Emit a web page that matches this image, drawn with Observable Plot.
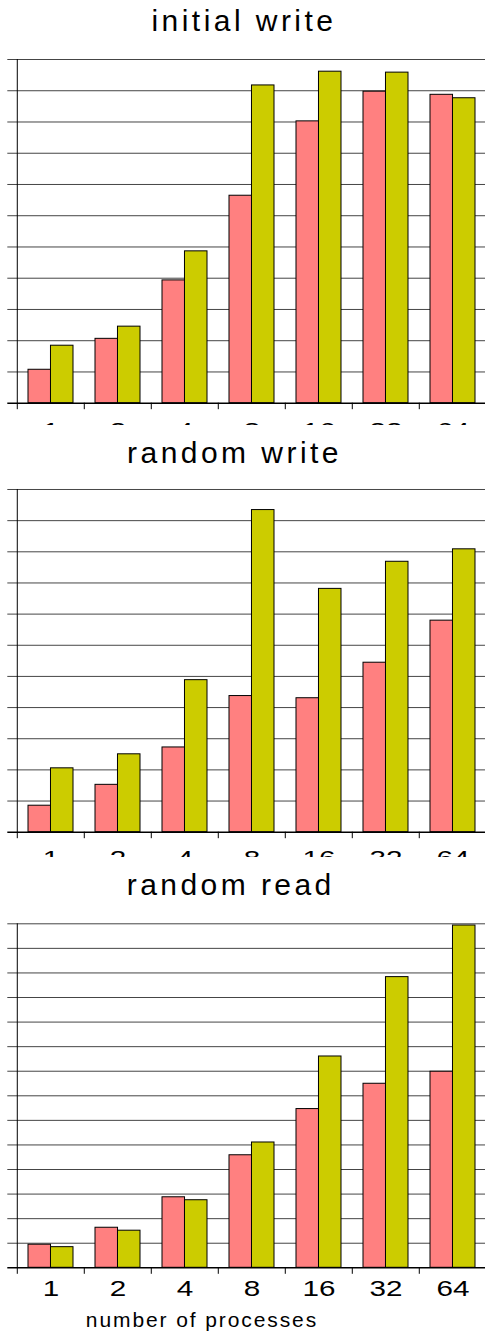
<!DOCTYPE html>
<html><head><meta charset="utf-8">
<script src="https://cdn.jsdelivr.net/npm/d3@7"></script>
<script src="https://cdn.jsdelivr.net/npm/@observablehq/plot@0.6"></script>
<style>
html,body{margin:0;padding:0;background:#fff;}
body{position:relative;width:485px;height:1332px;overflow:hidden;font-family:"Liberation Sans",Arial,sans-serif;}
.title{position:absolute;white-space:nowrap;color:#000;line-height:1;transform:translateX(-50%);z-index:2;font-family:"Liberation Sans",Arial,sans-serif;}
.panel{position:absolute;left:0;width:485px;z-index:1;}
</style></head><body>
<script>
const categories = ["1", "2", "4", "8", "16", "32", "64"];
const initialWriteA = [1.07, 2.06, 3.93, 6.64, 9.02, 9.97, 9.87];
const initialWriteB = [1.84, 2.45, 4.86, 10.17, 10.61, 10.58, 9.76];
const randomWriteA = [0.85, 1.52, 2.72, 4.37, 4.30, 5.44, 6.79];
const randomWriteB = [2.05, 2.50, 4.88, 10.34, 7.81, 8.68, 9.08];
const randomReadA = [0.94, 1.63, 2.87, 4.58, 6.46, 7.49, 7.98];
const randomReadB = [0.84, 1.51, 2.75, 5.10, 8.60, 11.83, 13.93];
const titles = ["initial write", "random write", "random read"];
const xTitle = "number of processes";

function addTitle(text, cx, baseline, fs, ls) {
  const d = document.createElement("div");
  d.className = "title";
  d.textContent = text;
  d.style.fontSize = fs + "px";
  d.style.letterSpacing = ls + "px";
  d.style.left = (cx + ls / 2) + "px";
  d.style.top = (baseline - 0.8465 * fs) + "px";
  document.body.appendChild(d);
}

function panel({a, b, ymax, top, height, marginTop, marginBottom, labelDy}) {
  const rows = categories.map((c, i) => ({c, a: a[i], b: b[i]}));
  const x0 = 15, x1 = 487;
  const step = (x1 - x0) / categories.length;
  const bw = step * 2 / 3;
  const frameH = height - marginTop - marginBottom;
  const svg = Plot.plot({
    width: 485, height, marginTop, marginBottom, marginLeft: 15, marginRight: 0,
    style: "overflow:hidden;background:transparent;font-family:'Liberation Sans',Arial,sans-serif",
    x: {type: "band", domain: categories, range: [x0, x1], paddingInner: 1 / 3, paddingOuter: 1 / 6, align: 0.5, axis: null},
    y: {domain: [0, ymax], axis: null},
    marks: [
      Plot.ruleY(d3.range(1, ymax + 1), {stroke: "#454545", strokeWidth: 1, insetLeft: -7.7}),
      Plot.barY(rows, {x: "c", y: "a", fill: "#FF8080", stroke: "#000", strokeWidth: 1, insetLeft: 0, insetRight: bw / 2}),
      Plot.barY(rows, {x: "c", y: "b", fill: "#CCCC00", stroke: "#000", strokeWidth: 1, insetLeft: bw / 2, insetRight: 0}),
      Plot.ruleY([0], {stroke: "#000", strokeWidth: 1.5, insetLeft: -7.7}),
      Plot.ruleX(categories.slice(0, 1), {x: d => d, dx: -step / 2, stroke: "#000", strokeWidth: 1, insetBottom: -6.5}),
      Plot.ruleX(categories.slice(1), {x: d => d, dx: -step / 2, stroke: "#000", strokeWidth: 1, insetTop: frameH, insetBottom: -6.5}),
      Plot.text(categories, {x: d => d, text: d => d, frameAnchor: "bottom", lineAnchor: "bottom", dy: labelDy, fontSize: 22.8, fill: "#000"})
    ]
  });
  const wrap = document.createElement("div");
  wrap.className = "panel";
  wrap.style.top = top + "px";
  wrap.appendChild(svg);
  document.body.appendChild(wrap);
  // widen the tick-label glyphs like the reference rendering
  svg.querySelectorAll("text").forEach(t => {
    const len = t.getComputedTextLength();
    if (len > 0) {
      t.setAttribute("textLength", (len * 1.3).toFixed(2));
      t.setAttribute("lengthAdjust", "spacingAndGlyphs");
    }
  });
}

panel({a: initialWriteA, b: initialWriteB, ymax: 11, top: 45, height: 380, marginTop: 14, marginBottom: 22.3, labelDy: 34.3});
panel({a: randomWriteA, b: randomWriteB, ymax: 11, top: 470, height: 386.7, marginTop: 19, marginBottom: 25, labelDy: 34});
panel({a: randomReadA, b: randomReadB, ymax: 14, top: 905, height: 400, marginTop: 18.3, marginBottom: 37.7, labelDy: 27.7});

addTitle(titles[0], 242.2, 31.7, 30, 3.45);
addTitle(titles[1], 232.8, 463.3, 30, 3.45);
addTitle(titles[2], 229, 895, 30, 3.45);
addTitle(xTitle, 201, 1326.7, 21, 1.9);
</script>
</body></html>
